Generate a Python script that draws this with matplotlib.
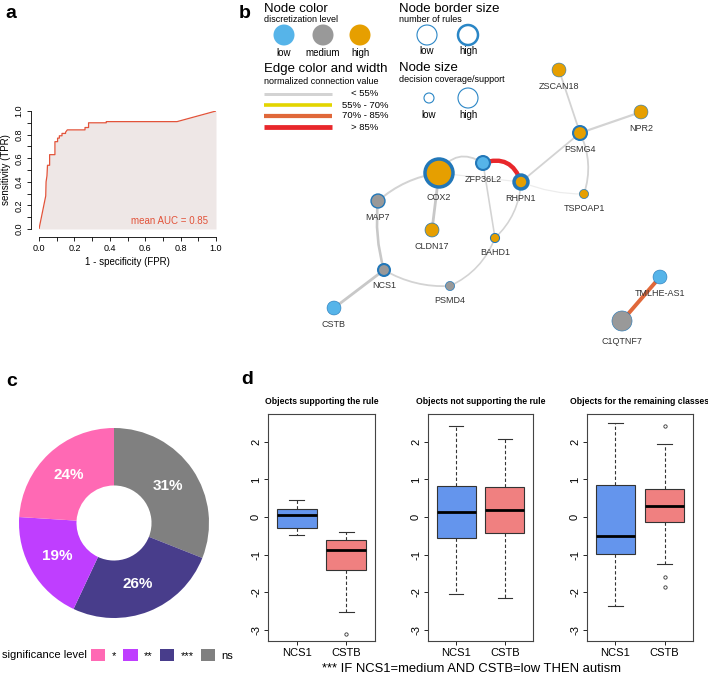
import matplotlib
matplotlib.use("Agg")
import matplotlib.pyplot as plt
from matplotlib.patches import Circle, Patch

plt.rcParams['font.family'] = ['Liberation Sans', 'DejaVu Sans']

W, H = 708, 676

# ---- panel a: ROC curve ----
fpr = [0.0, 0.038, 0.04, 0.045, 0.048, 0.06, 0.06, 0.09, 0.09, 0.105, 0.105,
       0.115, 0.115, 0.13, 0.13, 0.15, 0.15, 0.16, 0.26, 0.26, 0.28, 0.28,
       0.38, 0.38, 0.78, 1.0]
tpr = [0.0, 0.28, 0.40, 0.45, 0.54, 0.54, 0.63, 0.63, 0.74, 0.74, 0.77,
       0.77, 0.79, 0.79, 0.81, 0.81, 0.82, 0.84, 0.84, 0.86, 0.86, 0.90,
       0.90, 0.91, 0.91, 1.0]
auc_text = "mean AUC = 0.85"

# ---- panel b: rule network ----
node_names = ["COX2", "ZFP36L2", "RHPN1", "MAP7", "CLDN17", "BAHD1",
              "TSPOAP1", "NCS1", "PSMD4", "CSTB", "TMLHE-AS1", "C1QTNF7",
              "ZSCAN18", "NPR2", "PSMG4"]
node_x = [439, 483, 521, 378, 432, 495, 584, 384, 450, 334, 660, 622,
          559, 641, 580]
node_y = [173, 163, 182, 201, 230, 238, 194, 270, 286, 308, 277, 321,
          70, 112, 133]
node_level = ["high", "low", "high", "medium", "high", "high", "high",
              "medium", "medium", "low", "low", "medium", "high", "high",
              "high"]
node_coverage = [1.0, 0.36, 0.36, 0.36, 0.36, 0.14, 0.14, 0.27, 0.14,
                 0.36, 0.36, 0.64, 0.36, 0.36, 0.36]
node_rules = [5, 3, 5, 2, 1, 1.5, 1, 3, 1, 0.5, 0.5, 0.5, 0.5, 0.5, 3]

edge_from = ["COX2", "ZFP36L2", "COX2", "RHPN1", "RHPN1", "PSMG4", "PSMG4",
             "PSMG4", "ZFP36L2", "RHPN1", "BAHD1", "PSMD4", "NCS1", "MAP7",
             "COX2", "NCS1", "TMLHE-AS1"]
edge_to = ["ZFP36L2", "RHPN1", "RHPN1", "TSPOAP1", "PSMG4", "ZSCAN18",
           "NPR2", "TSPOAP1", "BAHD1", "BAHD1", "PSMD4", "NCS1", "MAP7",
           "COX2", "CLDN17", "CSTB", "C1QTNF7"]
edge_value = [25, 90, 10, 10, 25, 25, 35, 25, 20, 20, 20, 25, 45, 30, 50,
              50, 78]
edge_bend = [-0.5, -0.5, 0.0, 0.1, 0.0, 0.0, 0.0, -0.2, 0.0, -0.2, -0.2,
             -0.15, -0.1, -0.15, 0.0, 0.0, 0.0]

level_names = ["low", "medium", "high"]
level_colors = ["#56B4E9", "#999999", "#E69F00"]
edge_bins = ["< 55%", "55% - 70%", "70% - 85%", "> 85%"]
edge_bin_colors = ["#D3D3D3", "#E3D500", "#E0683A", "#E8272B"]

# ---- panel c: significance donut ----
sig_levels = ["ns", "***", "**", "*"]
sig_share = [31, 26, 19, 24]
sig_colors = ["#808080", "#483D8B", "#BF3EFF", "#FF69B4"]
legend_order = ["*", "**", "***", "ns"]

# ---- panel d: boxplots ----
panel_titles = ["Objects supporting the rule",
                "Objects not supporting the rule",
                "Objects for the remaining classes"]
genes = ["NCS1", "CSTB"]
box_colors = ["#6495ED", "#F08080"]
whislo = [[-0.49, -2.53], [-2.06, -2.15], [-2.36, -1.25]]
q1 = [[-0.29, -1.41], [-0.55, -0.42], [-0.98, -0.13]]
med = [[0.06, -0.88], [0.14, 0.19], [-0.51, 0.28]]
q3 = [[0.22, -0.62], [0.83, 0.81], [0.86, 0.75]]
whishi = [[0.46, -0.39], [2.42, 2.08], [2.49, 1.95]]
fliers = [[[], [-3.11]], [[], []], [[], [2.42, -1.61, -1.87]]]
rule_text = "*** IF NCS1=medium AND CSTB=low THEN autism"


def frac(x0, y0, x1, y1):
    return [x0 / W, 1 - y1 / H, (x1 - x0) / W, (y1 - y0) / H]


def edge_color(v):
    if v < 15:
        return "#ECECEC"
    if v < 55:
        return edge_bin_colors[0] if v < 40 else "#C8C8C8"
    if v < 70:
        return edge_bin_colors[1]
    if v < 85:
        return edge_bin_colors[2]
    return edge_bin_colors[3]


fig = plt.figure(figsize=(W / 100, H / 100), dpi=100)
ov = fig.add_axes([0, 0, 1, 1])
ov.set_xlim(0, W)
ov.set_ylim(H, 0)
ov.axis('off')

# panel letters
for letter, lx, ly in [("a", 11, 14), ("b", 245, 14), ("c", 12, 382),
                       ("d", 247, 380)]:
    ov.text(lx, ly, letter, fontsize=14, fontweight='bold',
            ha='center', va='center')

# ROC plot
ax = fig.add_axes(frac(39, 111, 216, 229))
ax.fill_between(fpr, tpr, 0, color="#EEE7E6", lw=0)
ax.plot(fpr, tpr, color="#E2533A", lw=0.9)
ax.set_xlim(0, 1)
ax.set_ylim(0, 1)
for s in ['top', 'right']:
    ax.spines[s].set_visible(False)
for s in ['left', 'bottom']:
    ax.spines[s].set_position(('outward', 6))
    ax.spines[s].set_bounds(0, 1)
    ax.spines[s].set_linewidth(0.6)
ticks = [i / 10 for i in range(11)]
ax.set_xticks(ticks)
ax.set_yticks(ticks)
ax.set_xticklabels([f"{t:.1f}" if i % 2 == 0 else "" for i, t in enumerate(ticks)])
ax.set_yticklabels([f"{t:.1f}" if i % 2 == 0 else "" for i, t in enumerate(ticks)],
                   rotation=90, va='center')
ax.tick_params(labelsize=6.5, length=3, width=0.6, pad=2)
ax.set_xlabel("1 - specificity (FPR)", fontsize=7, labelpad=3)
ax.set_ylabel("sensitivity (TPR)", fontsize=7, labelpad=3)
ax.patch.set_visible(False)
ax.text(0.955, 0.065, auc_text, color="#E2533A", fontsize=7,
        ha='right', va='center', transform=ax.transAxes)

# network edges
pos = {n: (x, y) for n, x, y in zip(node_names, node_x, node_y)}
for a, b, v, rad in zip(edge_from, edge_to, edge_value, edge_bend):
    ov.annotate("", xy=pos[b], xytext=pos[a], zorder=1,
                arrowprops=dict(arrowstyle='-', color=edge_color(v),
                                lw=(0.8 + v / 25) * 0.72,
                                shrinkA=0, shrinkB=0,
                                connectionstyle=f"arc3,rad={rad}"))

# network nodes
lvl_col = dict(zip(level_names, level_colors))
for n, x, y, lv, cov, nr in zip(node_names, node_x, node_y, node_level,
                                node_coverage, node_rules):
    r = 3 + 11 * cov
    ov.add_patch(Circle((x, y), r, facecolor=lvl_col[lv], edgecolor="#2277B8",
                        lw=nr * 0.5 if nr > 0.5 else 0.4, zorder=3))
    ov.text(x, y + r + 10, n, fontsize=6.5, color="#333333",
            ha='center', va='center', zorder=4)

# network legend
ov.text(264, 9, "Node color", fontsize=9.5, va='center')
ov.text(264, 19, "discretization level", fontsize=6.5, va='center')
for name, col, cx in zip(level_names, level_colors, [284, 323, 360]):
    ov.add_patch(Circle((cx, 35), 10.5, facecolor=col, edgecolor='none'))
    ov.text(cx, 53, name, fontsize=7, ha='center', va='center')

ov.text(264, 69, "Edge color and width", fontsize=9.5, va='center')
ov.text(264, 81, "normalized connection value", fontsize=6.5, va='center')
for i, (lab, col) in enumerate(zip(edge_bins, edge_bin_colors)):
    yy = 94 + i * 11
    ov.plot([264, 332], [yy, yy], color=col, lw=(3 + i * 0.6) * 0.72,
            solid_capstyle='butt')
    ov.text(365, yy, lab, fontsize=6.8, ha='center', va='center')

ov.text(399, 9, "Node border size", fontsize=9.5, va='center')
ov.text(399, 19, "number of rules", fontsize=6.5, va='center')
for lab, cx, lw in [("low", 427, 0.8), ("high", 468, 1.8)]:
    ov.add_patch(Circle((cx, 35), 10, facecolor='white', edgecolor="#2A86C6",
                        lw=lw))
    ov.text(cx, 51, lab, fontsize=7, ha='center', va='center')

ov.text(399, 68, "Node size", fontsize=9.5, va='center')
ov.text(399, 80, "decision coverage/support", fontsize=6.5, va='center')
for lab, cx, r in [("low", 429, 5), ("high", 468, 10)]:
    ov.add_patch(Circle((cx, 98), r, facecolor='white', edgecolor="#2A86C6",
                        lw=0.8))
    ov.text(cx, 115, lab, fontsize=7, ha='center', va='center')

# donut
axc = fig.add_axes(frac(19, 428, 209, 618))
axc.pie(sig_share, colors=sig_colors, startangle=90, counterclock=False,
        wedgeprops=dict(width=0.605, edgecolor='none'),
        autopct=lambda p: f"{p:.0f}%", pctdistance=0.69,
        textprops=dict(color='white', fontsize=11, fontweight='bold'))
axc.set_xlim(-1, 1)
axc.set_ylim(-1, 1)

ov.text(87, 655, "significance level", fontsize=8, ha='right', va='center')
handles = [Patch(facecolor=sig_colors[sig_levels.index(l)]) for l in legend_order]
fig.legend(handles, legend_order, loc='center left',
           bbox_to_anchor=(91 / W, 1 - 655 / H), ncol=4, frameon=False,
           fontsize=8, handlelength=1.3, handleheight=1.3,
           handletextpad=0.6, columnspacing=0.6, borderpad=0,
           borderaxespad=0)

# boxplots
box_x = [(268, 375), (428, 533), (587, 693)]
for k, (x0, x1) in enumerate(box_x):
    axb = fig.add_axes(frac(x0, 414, x1, 641))
    stats = []
    for g in range(2):
        stats.append(dict(med=med[k][g], q1=q1[k][g], q3=q3[k][g],
                          whislo=whislo[k][g], whishi=whishi[k][g],
                          fliers=fliers[k][g]))
    bp = axb.bxp(stats, positions=[1, 2], widths=0.8, patch_artist=True,
                 capwidths=0.3,
                 boxprops=dict(edgecolor='#333333', lw=0.8),
                 medianprops=dict(color='black', lw=2),
                 whiskerprops=dict(color='#333333', lw=0.8, linestyle=(0, (3, 2))),
                 capprops=dict(color='#333333', lw=0.8),
                 flierprops=dict(marker='o', markersize=2.4,
                                 markerfacecolor='none',
                                 markeredgecolor='#333333', markeredgewidth=0.6))
    for patch, col in zip(bp['boxes'], box_colors):
        patch.set_facecolor(col)
    axb.set_xlim(0.42, 2.58)
    axb.set_ylim(-3.30, 2.74)
    axb.set_xticks([1, 2])
    axb.set_xticklabels(genes)
    axb.set_yticks([-3, -2, -1, 0, 1, 2])
    axb.set_yticklabels(["-3", "-2", "-1", "0", "1", "2"], rotation=90,
                        va='center')
    axb.tick_params(labelsize=8, length=3, width=0.6, pad=2)
    for s in axb.spines.values():
        s.set_linewidth(0.8)
        s.set_color('#444444')
    ov.text((x0 + x1) / 2, 402, panel_titles[k], fontsize=6.2,
            fontweight='bold', ha='center', va='center')

ov.text(472, 669, rule_text, fontsize=9.4, ha='center', va='center')

fig.savefig("out.png", dpi=100)
